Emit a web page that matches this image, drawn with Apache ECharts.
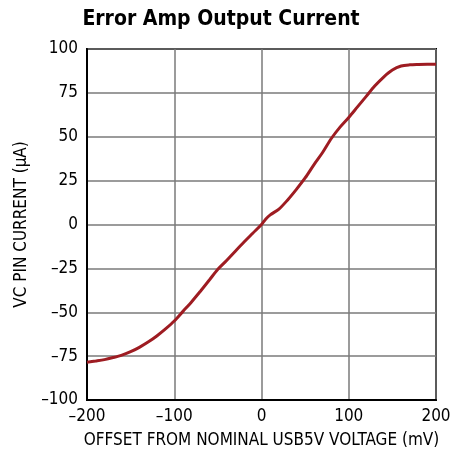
<!DOCTYPE html>
<html>
<head>
<meta charset="utf-8">
<script src="https://cdn.jsdelivr.net/npm/echarts@6/dist/echarts.min.js"></script>
<style>
html,body{margin:0;padding:0;background:#fff;}
#container{width:466px;height:462px;}
</style>
</head>
<body>
<div id="container"></div>
<script>
var offsetMv = [-200,-190,-180,-170,-160,-150,-140,-130,-120,-110,-100,-90,-80,-70,-60,-50,-40,-30,-20,-10,0,5,10,20,30,40,50,60,70,80,90,100,110,120,130,140,150,160,170,180,190,200];
var vcCurrent = [-78.5,-77.8,-77,-75.8,-74.4,-72.5,-70,-67,-63.5,-59.5,-55,-49.5,-44,-38,-31.8,-25.5,-20.5,-15.2,-10,-5,0,3.2,5.5,8.8,14,20,26.5,34,41,49,55.5,61,67,73,79,84,88,90.3,91,91.2,91.3,91.3];

var dom = document.getElementById("container");
var myChart = echarts.init(dom);

var pts = [];
for (var i = 0; i < offsetMv.length; i++) {
    pts.push([offsetMv[i], vcCurrent[i]]);
}
function dash(v) {
    return String(v).replace('-', '\u2013');
}
var font = '"DejaVu Sans Condensed", "Liberation Sans Narrow", "Liberation Sans", sans-serif';

var option = {
    animation: false,
    title: {
        text: 'Error Amp Output Current',
        left: 216,
        top: 4,
        textAlign: 'center',
        textStyle: {fontFamily: font, fontWeight: 'bold', fontSize: 21, color: '#000'}
    },
    grid: {
        left: 87,
        right: 30,
        top: 49,
        bottom: 62,
        show: true,
        borderColor: '#000',
        borderWidth: 2
    },
    xAxis: {
        type: 'value',
        min: -200,
        max: 200,
        interval: 100,
        name: 'OFFSET FROM NOMINAL USB5V VOLTAGE (mV)',
        nameLocation: 'middle',
        nameGap: 32,
        nameTextStyle: {fontFamily: font, fontSize: 17, color: '#000'},
        axisLine: {onZero: false, lineStyle: {color: '#000', width: 2}},
        axisTick: {show: false},
        axisLabel: {fontFamily: font, fontSize: 17, color: '#000', margin: 8, formatter: dash},
        splitLine: {lineStyle: {color: '#7a7a7a', width: 1.5}}
    },
    yAxis: {
        type: 'value',
        min: -100,
        max: 100,
        interval: 25,
        name: 'VC PIN CURRENT (\u03bcA)',
        nameLocation: 'middle',
        nameGap: 53,
        nameTextStyle: {fontFamily: font, fontSize: 17, color: '#000'},
        axisLine: {onZero: false, lineStyle: {color: '#000', width: 2}},
        axisTick: {show: false},
        axisLabel: {fontFamily: font, fontSize: 17, color: '#000', margin: 9, formatter: dash},
        splitLine: {lineStyle: {color: '#7a7a7a', width: 1.5}}
    },
    series: [{
        type: 'line',
        data: pts,
        smooth: 0.3,
        showSymbol: false,
        lineStyle: {color: '#9e1c22', width: 3}
    }]
};
myChart.setOption(option);
</script>
</body>
</html>
